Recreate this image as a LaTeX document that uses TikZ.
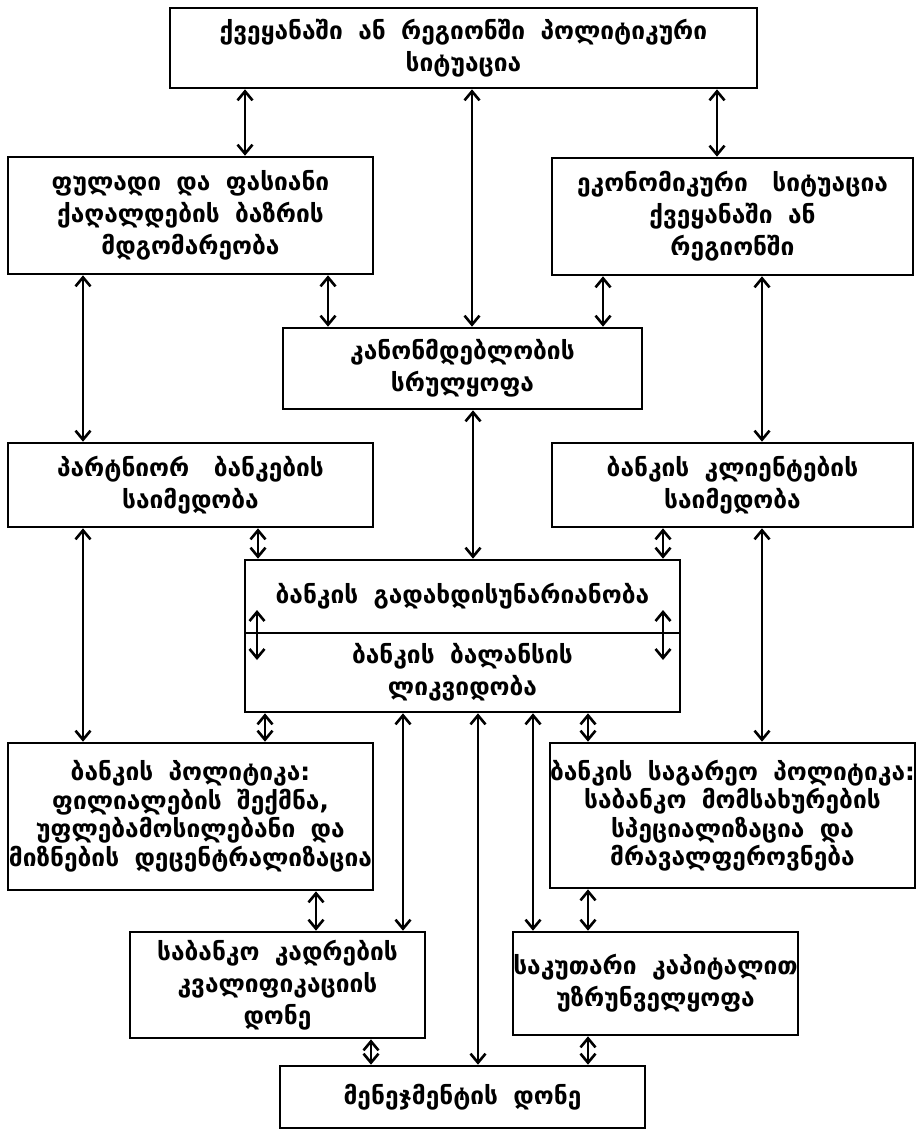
\documentclass[tikz,border=0pt]{standalone}
\usepackage{fontspec}
\setmainfont{DejaVu Sans}[WordSpace=1.8]
\usetikzlibrary{arrows.meta}

\begin{document}
\begin{tikzpicture}[x=1pt,y=-1pt]
% définition des paramètres
\tikzstyle boite=[draw,line width=2.6pt,inner sep=0pt,align=center,font=\fontsize{24.5}{32}\selectfont\bfseries]
\tikzstyle serre=[font=\fontsize{24.5}{28.5}\selectfont\bfseries]
\tikzstyle fleche=[line width=2.6pt,{Straight Barb[length=9pt,width=15pt,line width=2.6pt]}-{Straight Barb[length=9pt,width=15pt,line width=2.6pt]}]
\newcommand{\liaison}[3]{% #1 en haut, #2 en bas, #3 abscisse
  \coordinate (col) at (#3,0);
  \draw[fleche] (#1.south -| col) -- (#2.north -| col);}
\useasboundingbox (0,0) rectangle (917,1132);
% les boites
\node[boite,minimum width=587pt,minimum height=80pt] (politique) at (463.5,48)
  {ქვეყანაში ან რეგიონში პოლიტიკური\\სიტუაცია};
\node[boite,minimum width=365pt,minimum height=117pt] (marche) at (190.5,215.5)
  {ფულადი და ფასიანი\\ქაღალდების ბაზრის\\მდგომარეობა};
\node[boite,minimum width=361pt,minimum height=117pt] (economie) at (732.5,216.5)
  {ეკონომიკური\quad სიტუაცია\\ქვეყანაში ან\\რეგიონში};
\node[boite,minimum width=359pt,minimum height=81pt] (loi) at (462.5,368.5)
  {კანონმდებლობის\\სრულყოფა};
\node[boite,minimum width=365pt,minimum height=84pt] (partenaires) at (190.5,485)
  {პარტნიორ\quad ბანკების\\საიმედობა};
\node[boite,minimum width=361pt,minimum height=84pt] (clients) at (732.5,485)
  {ბანკის კლიენტების\\საიმედობა};
\node[boite,minimum width=435pt,minimum height=73pt] (solva) at (462.5,596.5)
  {ბანკის გადახდისუნარიანობა};
\node[boite,minimum width=435pt,minimum height=79pt] (liquidite) at (462.5,672.5)
  {ბანკის ბალანსის\\ლიკვიდობა};
\node[boite,serre,minimum width=365pt,minimum height=147pt] (politint) at (190.5,816.5)
  {ბანკის პოლიტიკა:\\ფილიალების შექმნა,\\უფლებამოსილებანი და\\მიზნების დეცენტრალიზაცია};
\node[boite,serre,minimum width=361pt,minimum height=145pt] (politext) at (732.5,815.5)
  {ბანკის საგარეო პოლიტიკა:\\საბანკო მომსახურების\\სპეციალიზაცია და\\მრავალფეროვნება};
\node[boite,minimum width=295pt,minimum height=106pt] (cadres) at (277.5,985)
  {საბანკო კადრების\\კვალიფიკაციის\\დონე};
\node[boite,minimum width=285pt,minimum height=103pt] (capital) at (655.5,983.5)
  {საკუთარი კაპიტალით\\უზრუნველყოფა};
\node[boite,minimum width=365pt,minimum height=62pt] (gestion) at (462.5,1097)
  {მენეჯმენტის დონე};
% les flèches
\liaison{politique}{marche}{245}
\liaison{politique}{loi}{472}
\liaison{politique}{economie}{717}
\liaison{marche}{loi}{328}
\liaison{economie}{loi}{603}
\liaison{marche}{partenaires}{83}
\liaison{economie}{clients}{762}
\liaison{loi}{solva}{473}
\liaison{partenaires}{solva}{258}
\liaison{clients}{solva}{663}
\liaison{partenaires}{politint}{83}
\liaison{clients}{politext}{762}
\liaison{liquidite}{politint}{265}
\liaison{liquidite}{cadres}{403}
\liaison{liquidite}{gestion}{478}
\liaison{liquidite}{capital}{533}
\liaison{liquidite}{politext}{588}
\liaison{politint}{cadres}{316}
\liaison{politext}{capital}{588}
\liaison{cadres}{gestion}{371}
\liaison{capital}{gestion}{588}
% dans la boite du milieu
\coordinate (g1) at (257,610); \coordinate (g2) at (257,660);
\coordinate (d1) at (663,610); \coordinate (d2) at (663,660);
\draw[fleche] (g1) -- (g2);
\draw[fleche] (d1) -- (d2);
\end{tikzpicture}
\end{document}
